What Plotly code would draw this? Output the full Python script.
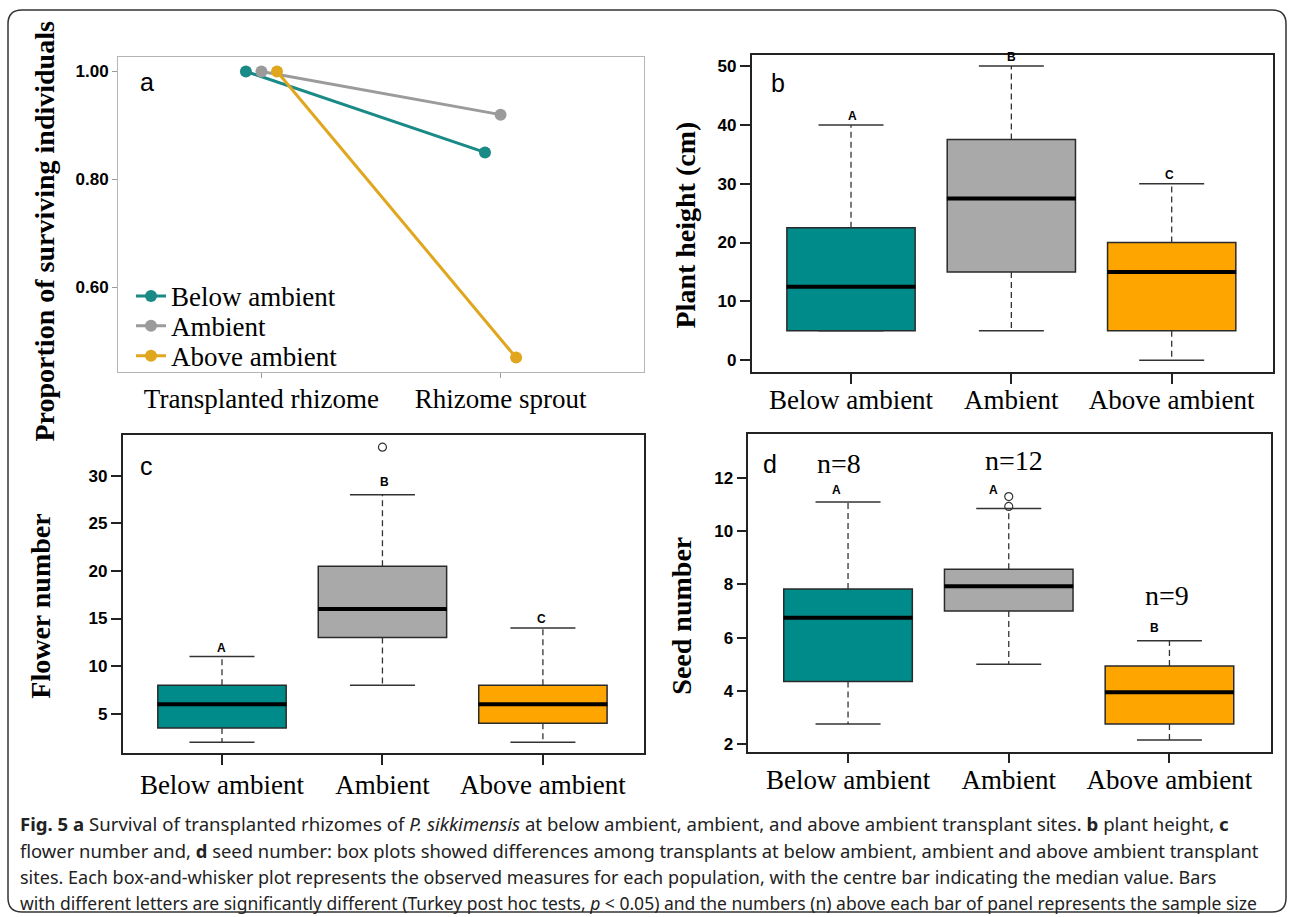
import plotly.graph_objects as go

W, H = 1290, 917

# ---------------- data ----------------
groups = ["Below ambient", "Ambient", "Above ambient"]
stages = ["Transplanted rhizome", "Rhizome sprout"]
survival_below = [1.00, 0.85]
survival_ambient = [1.00, 0.92]
survival_above = [1.00, 0.47]

height_lower = [5, 5, 0]
height_q1 = [5, 15, 5]
height_median = [12.5, 27.5, 15]
height_q3 = [22.5, 37.5, 20]
height_upper = [40, 50, 30]
height_outliers = [[], [], []]
height_letters = ["A", "B", "C"]

flower_lower = [2, 8, 2]
flower_q1 = [3.5, 13, 4]
flower_median = [6, 16, 6]
flower_q3 = [8, 20.5, 8]
flower_upper = [11, 28, 14]
flower_outliers = [[], [33], []]
flower_letters = ["A", "B", "C"]

seed_lower = [2.75, 5.0, 2.15]
seed_q1 = [4.35, 7.0, 2.75]
seed_median = [6.75, 7.93, 3.95]
seed_q3 = [7.83, 8.57, 4.93]
seed_upper = [11.1, 10.85, 5.88]
seed_outliers = [[], [10.93, 11.3], []]
seed_letters = ["A", "A", "B"]
seed_n = ["n=8", "n=12", "n=9"]

# ---------------- styles ----------------
line_colors = ["#1a8a86", "#9b9b9b", "#e0a61e"]
box_fills = ["#008B8B", "#A9A9A9", "#FFA500"]
SERIF = "Liberation Serif"
SANS = "Liberation Sans"
BOX_PX = 129     # box width in pixels (0.8 of a category)
CAP_PX = 65      # whisker cap width in pixels


def px(x):
    return x / W


def py(y):
    return 1 - y / H


fig = go.Figure()

# ---------------- panel a ----------------
dodge = 0.065
series = [survival_below, survival_ambient, survival_above]
legend_names = ["legend", "legend2", "legend3"]
for i, (g, vals) in enumerate(zip(groups, series)):
    xs = [k + (i - 1) * dodge for k in range(len(stages))]
    fig.add_trace(go.Scatter(
        x=xs, y=vals, mode="lines+markers", name=g,
        line=dict(color=line_colors[i], width=3),
        marker=dict(color=line_colors[i], size=12),
        xaxis="x", yaxis="y", showlegend=True, legend=legend_names[i],
        hoverinfo="skip"))


# ---------------- box panels ----------------
def box_panel(xa, ya, lower, q1, med, q3, upper, outliers, letters,
              letter_dx, letter_dy):
    for i, g in enumerate(groups):
        fig.add_trace(go.Box(
            x=[g], q1=[q1[i]], median=[med[i]], q3=[q3[i]],
            lowerfence=[q1[i]], upperfence=[q3[i]],
            fillcolor=box_fills[i], line=dict(color="#2a2a2a", width=1.5),
            whiskerwidth=0, width=0.8, boxpoints=False,
            xaxis=xa, yaxis=ya, showlegend=False, hoverinfo="skip"))
    wx, wy = [], []
    for i, g in enumerate(groups):
        wx += [g, g, None, g, g, None]
        wy += [q3[i], upper[i], None, q1[i], lower[i], None]
    fig.add_trace(go.Scatter(
        x=wx, y=wy, mode="lines",
        line=dict(color="#333333", width=1.3, dash="6px,4px"),
        xaxis=xa, yaxis=ya, showlegend=False, hoverinfo="skip"))
    fig.add_trace(go.Scatter(
        x=groups + groups, y=list(upper) + list(lower), mode="markers",
        marker=dict(symbol="line-ew", size=CAP_PX / 1.4,
                    line=dict(color="#333333", width=1.5)),
        xaxis=xa, yaxis=ya, showlegend=False, hoverinfo="skip"))
    fig.add_trace(go.Scatter(
        x=groups, y=med, mode="markers",
        marker=dict(symbol="line-ew", size=BOX_PX / 1.4,
                    line=dict(color="black", width=4)),
        xaxis=xa, yaxis=ya, showlegend=False, hoverinfo="skip"))
    ox, oy = [], []
    for i, g in enumerate(groups):
        for v in outliers[i]:
            ox.append(g)
            oy.append(v)
    if ox:
        fig.add_trace(go.Scatter(
            x=ox, y=oy, mode="markers",
            marker=dict(symbol="circle-open", size=8, color="#333333",
                        line=dict(color="#333333", width=1.2)),
            xaxis=xa, yaxis=ya, showlegend=False, hoverinfo="skip"))
    for i, g in enumerate(groups):
        fig.add_annotation(
            x=g, y=upper[i], xref=xa, yref=ya, text=letters[i],
            showarrow=False, xshift=letter_dx[i], yshift=letter_dy[i],
            font=dict(family=SANS, size=12, color="black", weight="bold"))


box_panel("x2", "y2", height_lower, height_q1, height_median, height_q3,
          height_upper, height_outliers, height_letters,
          [1, 0, -2], [9, 9, 9])
box_panel("x3", "y3", flower_lower, flower_q1, flower_median, flower_q3,
          flower_upper, flower_outliers, flower_letters,
          [0, 2, -1], [9, 13, 9])
box_panel("x4", "y4", seed_lower, seed_q1, seed_median, seed_q3,
          seed_upper, seed_outliers, seed_letters,
          [-12, -15, -15], [12, 19, 13])

# n labels for panel d
n_dx = [-9, 5, -2]
n_dy = [38, 48, 45]
for i, g in enumerate(groups):
    fig.add_annotation(
        x=g, y=seed_upper[i], xref="x4", yref="y4", text=seed_n[i],
        showarrow=False, xshift=n_dx[i], yshift=n_dy[i],
        font=dict(family=SERIF, size=28, color="black"))

# ---------------- axes ----------------
tick_bold = dict(family=SANS, size=17, color="black", weight="bold")
cat_font = dict(family=SERIF, size=27, color="black")

frame_a = dict(showline=True, mirror=True, linecolor="#b5b5b5", linewidth=1,
               showgrid=False, zeroline=False, ticks="outside", ticklen=5,
               tickcolor="#9a9a9a")
frame_box = dict(showline=True, mirror=True, linecolor="#222222", linewidth=1.5,
                 showgrid=False, zeroline=False, ticks="outside", ticklen=10,
                 tickcolor="#222222", tickwidth=1.5)

fig.update_layout(
    xaxis=dict(domain=[px(118), px(644)], anchor="y", range=[-0.6, 1.6],
               tickmode="array", tickvals=list(range(len(stages))),
               ticktext=stages, tickfont=cat_font, ticklabelstandoff=-3,
               **frame_a),
    yaxis=dict(domain=[py(373), py(57)], anchor="x", range=[0.443, 1.027],
               tickmode="array", tickvals=[0.6, 0.8, 1.0],
               tickformat=".2f", tickfont=tick_bold, **frame_a),
    xaxis2=dict(domain=[px(751.6), px(1272.7)], anchor="y2",
                type="category", categoryorder="array", categoryarray=groups,
                range=[-0.62, 2.63], tickfont=cat_font, ticklabelstandoff=-7,
                **frame_box),
    yaxis2=dict(domain=[py(372.7), py(55)], anchor="x2", range=[-1.99, 51.9],
                tickvals=[0, 10, 20, 30, 40, 50], tickfont=tick_bold, **frame_box),
    xaxis3=dict(domain=[px(122.5), px(644)], anchor="y3",
                type="category", categoryorder="array", categoryarray=groups,
                range=[-0.62, 2.63], tickfont=cat_font, ticklabelstandoff=-4,
                **frame_box),
    yaxis3=dict(domain=[py(755), py(435.7)], anchor="x3", range=[0.84, 34.3],
                tickvals=[5, 10, 15, 20, 25, 30], tickfont=tick_bold, **frame_box),
    xaxis4=dict(domain=[px(748.4), px(1270.7)], anchor="y4",
                type="category", categoryorder="array", categoryarray=groups,
                range=[-0.62, 2.63], tickfont=cat_font, ticklabelstandoff=-7,
                **frame_box),
    yaxis4=dict(domain=[py(753.3), py(435)], anchor="x4", range=[1.715, 13.65],
                tickvals=[2, 4, 6, 8, 10, 12], tickfont=tick_bold, **frame_box),
)

# axis titles
titles = [
    ("Proportion of surviving individuals", 44, 232),
    ("Plant height (cm)", 686, 226),
    ("Flower number", 41, 608),
    ("Seed number", 682, 617),
]
for t, x, y in titles:
    fig.add_annotation(x=px(x), y=py(y), xref="paper", yref="paper", text=t,
                       textangle=-90, showarrow=False, xanchor="center",
                       yanchor="middle",
                       font=dict(family=SERIF, size=28, color="black",
                                 weight="bold"))

# panel letters
for t, x, y in [("a", 147, 82), ("b", 778, 83), ("c", 146, 467), ("d", 770, 465)]:
    fig.add_annotation(x=px(x), y=py(y), xref="paper", yref="paper", text=t,
                       showarrow=False, xanchor="center", yanchor="middle",
                       font=dict(family=SANS, size=25, color="black"))

# caption
caption = [
    "<b>Fig. 5 a</b> Survival of transplanted rhizomes of <i>P. sikkimensis</i> at below ambient, ambient, and above ambient transplant sites. <b>b</b> plant height, <b>c</b>",
    "flower number and, <b>d</b> seed number: box plots showed differences among transplants at below ambient, ambient and above ambient transplant",
    "sites. Each box-and-whisker plot represents the observed measures for each population, with the centre bar indicating the median value. Bars",
    "with different letters are significantly different (Turkey post hoc tests, <i>p</i> &lt; 0.05) and the numbers (n) above each bar of panel represents the sample size",
]
caption_sizes = [18.6, 18.4, 18.0, 17.5]
for line, y, fs in zip(caption, [825, 852, 879, 905], caption_sizes):
    fig.add_annotation(x=px(18), y=py(y), xref="paper", yref="paper", text=line,
                       showarrow=False, xanchor="left", yanchor="middle",
                       font=dict(family="Noto Sans", size=fs, color="#222222"))

# rounded outer border
x0, x1, y0, y1 = px(8), px(1286), py(914), py(10)
rx, ry = 14 / W, 14 / H
path = (f"M {x0 + rx},{y1} L {x1 - rx},{y1} Q {x1},{y1} {x1},{y1 - ry} "
        f"L {x1},{y0 + ry} Q {x1},{y0} {x1 - rx},{y0} L {x0 + rx},{y0} "
        f"Q {x0},{y0} {x0},{y0 + ry} L {x0},{y1 - ry} Q {x0},{y1} {x0 + rx},{y1} Z")
fig.add_shape(type="path", path=path, xref="paper", yref="paper",
              line=dict(color="#333333", width=1.5), layer="below")

leg_common = dict(x=px(131), xanchor="left", yanchor="middle",
                  font=dict(family=SERIF, size=27, color="black"),
                  bgcolor="rgba(0,0,0,0)", itemwidth=30)
fig.update_layout(
    width=W, height=H, margin=dict(l=0, r=0, t=0, b=0),
    paper_bgcolor="white", plot_bgcolor="white",
    legend=dict(y=py(297), **leg_common),
    legend2=dict(y=py(327), **leg_common),
    legend3=dict(y=py(357), **leg_common),
    boxmode="overlay",
)

fig.write_html("out.html", config={"displayModeBar": False},
               post_script="document.body.style.margin='0';document.body.style.overflow='hidden';")
